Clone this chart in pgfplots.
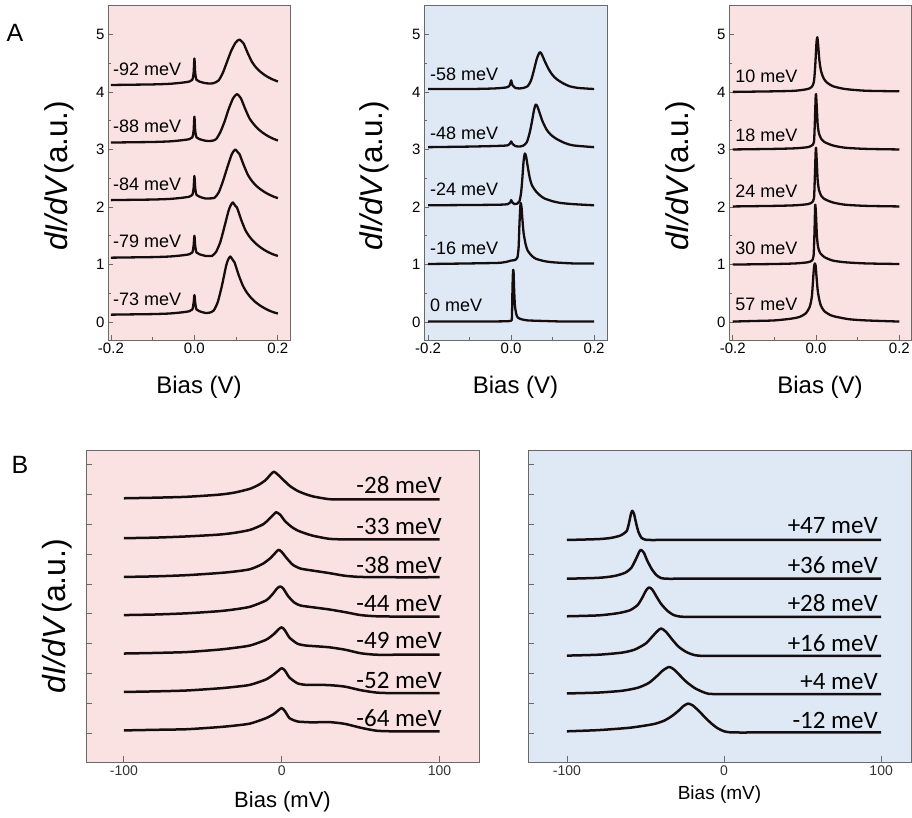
\documentclass[border=0pt]{standalone}
\usepackage{fontspec}
\setmainfont{Liberation Sans}
\newfontfamily\calib{Carlito}
\usepackage{pgfplots}
\pgfplotsset{compat=1.18}
\definecolor{pinkbg}{RGB}{251,226,226}
\definecolor{bluebg}{RGB}{222,233,245}
\definecolor{axgray}{RGB}{105,105,105}
\definecolor{crvc}{RGB}{22,14,14}
\tikzset{
  lbl/.style={anchor=west, font=\fontsize{18}{18}\selectfont, inner sep=0pt},
  blbl/.style={anchor=base east, font=\calib\fontsize{25}{25}\selectfont, inner sep=0pt},
}
\pgfplotsset{
  crv/.style={line width=2.3pt, color=crvc, line join=round, smooth, tension=0.4},
  bcrv/.style={line width=2.5pt, color=crvc, line join=round, smooth, tension=0.4},
  topax/.style={scale only axis, anchor=south west, width=182pt, height=335pt,
    xmin=-0.207, xmax=0.229, ymin=-0.31, ymax=5.51,
    tick align=inside, tick pos=left,
    xtick={-0.2,0,0.2}, xticklabels={-0.2,0.0,0.2}, minor xtick={-0.1,0.1},
    ytick={0,1,2,3,4,5}, minor ytick={0.5,1.5,2.5,3.5,4.5},
    major tick length=5pt, minor tick length=3pt,
    axis line style={axgray, line width=0.8pt},
    tick style={axgray, line width=0.8pt},
    tick label style={font=\fontsize{15}{15}\selectfont},
    /pgf/number format/assume math mode=true,
    xlabel={Bias (V)},
    xlabel style={at={(axis description cs:0.5,-0.14)}, anchor=center, font=\fontsize{24}{24}\selectfont},
    ylabel={{\itshape dI/dV}\hspace{3pt}(a.u.)},
    ylabel style={at={(axis description cs:-0.27,0.49)}, anchor=center, font=\fontsize{31.5}{31.5}\selectfont, inner sep=0pt},
  },
  botax/.style={scale only axis, anchor=south west, height=312pt,
    ymin=-0.97, ymax=9.5, ytick={0,1,2,3,4,5,6,7,8,9}, yticklabels={},
    xtick={-100,0,100},
    tick align=inside, tick pos=left,
    major tick length=6pt,
    axis line style={axgray, line width=0.9pt},
    tick style={axgray, line width=0.9pt},
    tick label style={font=\fontsize{14}{14}\selectfont, text=black!80},
    /pgf/number format/assume math mode=true,
    xlabel={Bias (mV)},
  },
}
\begin{document}
\begin{tikzpicture}
\useasboundingbox (0pt,0pt) rectangle (912pt,818pt);
\node[font=\fontsize{25}{25}\selectfont] at (15pt,785pt) {A};
\node[font=\fontsize{25}{25}\selectfont] at (20pt,353pt) {B};

% ---------------- A1 ----------------
\begin{axis}[topax, at={(108pt,478pt)}, axis background/.style={fill=pinkbg}]
\addplot[crv] coordinates {(-0.2,0.13) (-0.15,0.135) (-0.1,0.14) (-0.06,0.15) (-0.03,0.17) (-0.012,0.19) (-0.005,0.22) (-0.002,0.33) (0,0.47) (0.002,0.33) (0.005,0.22) (0.012,0.19) (0.026,0.16) (0.036,0.165) (0.046,0.20) (0.056,0.35) (0.066,0.635) (0.076,0.98) (0.081,1.09) (0.086,1.14) (0.091,1.09) (0.096,1.04) (0.106,0.82) (0.116,0.635) (0.126,0.51) (0.136,0.42) (0.146,0.35) (0.156,0.295) (0.166,0.25) (0.178,0.205) (0.19,0.17) (0.2,0.15)};
\addplot[crv] coordinates {(-0.2,1.12) (-0.15,1.125) (-0.1,1.13) (-0.06,1.14) (-0.03,1.16) (-0.012,1.18) (-0.005,1.21) (-0.002,1.32) (0,1.50) (0.002,1.32) (0.005,1.21) (0.012,1.18) (0.027,1.15) (0.042,1.15) (0.047,1.18) (0.052,1.22) (0.062,1.39) (0.072,1.66) (0.082,1.94) (0.087,2.03) (0.092,2.08) (0.097,2.03) (0.102,1.99) (0.112,1.78) (0.122,1.60) (0.132,1.485) (0.142,1.40) (0.152,1.335) (0.162,1.28) (0.172,1.235) (0.186,1.185) (0.2,1.15)};
\addplot[crv] coordinates {(-0.2,2.12) (-0.15,2.125) (-0.1,2.13) (-0.06,2.14) (-0.03,2.16) (-0.012,2.18) (-0.005,2.21) (-0.002,2.32) (0,2.54) (0.002,2.32) (0.005,2.21) (0.012,2.18) (0.025,2.15) (0.038,2.15) (0.048,2.16) (0.058,2.25) (0.068,2.44) (0.078,2.67) (0.088,2.89) (0.093,2.96) (0.098,3.00) (0.103,2.96) (0.108,2.92) (0.118,2.73) (0.128,2.56) (0.138,2.45) (0.148,2.37) (0.158,2.31) (0.168,2.26) (0.178,2.22) (0.19,2.18) (0.2,2.155)};
\addplot[crv] coordinates {(-0.2,3.12) (-0.15,3.125) (-0.1,3.13) (-0.06,3.14) (-0.03,3.16) (-0.012,3.18) (-0.005,3.21) (-0.002,3.32) (0,3.57) (0.002,3.32) (0.005,3.21) (0.012,3.18) (0.027,3.15) (0.042,3.15) (0.052,3.18) (0.062,3.30) (0.072,3.48) (0.082,3.70) (0.092,3.88) (0.097,3.93) (0.102,3.96) (0.107,3.93) (0.112,3.88) (0.122,3.70) (0.132,3.54) (0.142,3.44) (0.152,3.36) (0.162,3.30) (0.172,3.25) (0.182,3.21) (0.191,3.18) (0.2,3.155)};
\addplot[crv] coordinates {(-0.2,4.12) (-0.15,4.125) (-0.1,4.13) (-0.06,4.14) (-0.03,4.16) (-0.012,4.18) (-0.005,4.21) (-0.002,4.32) (0,4.58) (0.002,4.32) (0.005,4.21) (0.012,4.18) (0.028,4.15) (0.045,4.15) (0.058,4.20) (0.068,4.33) (0.078,4.52) (0.088,4.71) (0.098,4.85) (0.103,4.89) (0.108,4.91) (0.113,4.88) (0.118,4.84) (0.128,4.67) (0.138,4.52) (0.148,4.42) (0.158,4.35) (0.168,4.295) (0.178,4.25) (0.188,4.215) (0.2,4.18)};
\node[lbl] at (axis cs:-0.195,0.4) {-73 meV};
\node[lbl] at (axis cs:-0.195,1.4) {-79 meV};
\node[lbl] at (axis cs:-0.195,2.4) {-84 meV};
\node[lbl] at (axis cs:-0.195,3.4) {-88 meV};
\node[lbl] at (axis cs:-0.195,4.4) {-92 meV};
\end{axis}

% ---------------- A2 ----------------
\begin{axis}[topax, at={(424pt,478pt)}, width=183pt, xmin=-0.21, xmax=0.231, axis background/.style={fill=bluebg}]
\addplot[crv] coordinates {(-0.2,0.01) (-0.1,0.01) (-0.04,0.012) (-0.015,0.015) (-0.006,0.018) (-0.002,0.02) (0.001,0.03) (0.002,0.1) (0.003,0.5) (0.004,0.8) (0.005,0.91) (0.006,0.85) (0.007,0.6) (0.009,0.3) (0.012,0.15) (0.016,0.08) (0.025,0.05) (0.04,0.03) (0.08,0.02) (0.13,0.01) (0.2,0.01)};
\addplot[crv] coordinates {(-0.2,1.01) (-0.1,1.02) (-0.03,1.03) (-0.01,1.05) (0,1.07) (0.01,1.08) (0.015,1.12) (0.018,1.3) (0.02,1.7) (0.022,2.0) (0.023,2.07) (0.025,2.0) (0.027,1.8) (0.03,1.55) (0.035,1.35) (0.04,1.24) (0.05,1.15) (0.06,1.1) (0.08,1.06) (0.1,1.04) (0.15,1.02) (0.2,1.02)};
\addplot[crv] coordinates {(-0.2,2.03) (-0.1,2.035) (-0.03,2.04) (-0.008,2.05) (-0.002,2.08) (0,2.12) (0.003,2.08) (0.008,2.05) (0.015,2.06) (0.02,2.1) (0.024,2.25) (0.027,2.5) (0.03,2.8) (0.033,2.93) (0.036,2.88) (0.04,2.7) (0.045,2.5) (0.05,2.38) (0.06,2.27) (0.07,2.2) (0.08,2.15) (0.1,2.1) (0.12,2.07) (0.15,2.05) (0.2,2.03)};
\addplot[crv] coordinates {(-0.2,3.04) (-0.1,3.05) (-0.04,3.06) (-0.01,3.07) (-0.003,3.1) (0,3.14) (0.003,3.1) (0.01,3.06) (0.02,3.05) (0.03,3.07) (0.038,3.13) (0.045,3.3) (0.05,3.48) (0.055,3.68) (0.059,3.78) (0.063,3.75) (0.068,3.65) (0.075,3.5) (0.085,3.35) (0.095,3.26) (0.11,3.18) (0.13,3.11) (0.15,3.07) (0.2,3.04)};
\addplot[crv] coordinates {(-0.2,4.05) (-0.1,4.05) (-0.04,4.06) (-0.01,4.08) (-0.003,4.12) (0,4.2) (0.003,4.12) (0.01,4.07) (0.02,4.06) (0.03,4.07) (0.04,4.1) (0.048,4.2) (0.055,4.38) (0.062,4.58) (0.069,4.69) (0.074,4.65) (0.08,4.55) (0.09,4.4) (0.1,4.29) (0.11,4.22) (0.125,4.15) (0.14,4.1) (0.16,4.07) (0.2,4.05)};
\node[lbl] at (axis cs:-0.196,0.3) {0 meV};
\node[lbl] at (axis cs:-0.196,1.28) {-16 meV};
\node[lbl] at (axis cs:-0.196,2.3) {-24 meV};
\node[lbl] at (axis cs:-0.196,3.28) {-48 meV};
\node[lbl] at (axis cs:-0.196,4.31) {-58 meV};
\end{axis}

% ---------------- A3 ----------------
\begin{axis}[topax, at={(729pt,478pt)}, xmin=-0.209, xmax=0.228, axis background/.style={fill=pinkbg}]
\addplot[crv] coordinates {(-0.2,0.01) (-0.15,0.02) (-0.1,0.03) (-0.06,0.06) (-0.04,0.09) (-0.025,0.15) (-0.015,0.27) (-0.01,0.45) (-0.007,0.75) (-0.005,0.95) (-0.003,1.02) (-0.001,0.98) (0.001,0.8) (0.004,0.55) (0.008,0.38) (0.012,0.28) (0.02,0.19) (0.035,0.12) (0.05,0.09) (0.08,0.05) (0.12,0.03) (0.2,0.01)};
\addplot[crv] coordinates {(-0.2,1.0) (-0.1,1.01) (-0.05,1.02) (-0.02,1.04) (-0.01,1.07) (-0.006,1.15) (-0.004,1.5) (-0.002,2.04) (0,1.85) (0.002,1.5) (0.005,1.3) (0.01,1.2) (0.02,1.13) (0.04,1.07) (0.07,1.04) (0.12,1.02) (0.2,1.01)};
\addplot[crv] coordinates {(-0.2,2.01) (-0.1,2.02) (-0.05,2.03) (-0.02,2.05) (-0.01,2.08) (-0.005,2.15) (-0.003,2.5) (-0.001,2.95) (0,3.03) (0.002,2.75) (0.004,2.45) (0.007,2.3) (0.012,2.2) (0.02,2.14) (0.04,2.08) (0.07,2.04) (0.12,2.02) (0.2,2.01)};
\addplot[crv] coordinates {(-0.2,3.0) (-0.1,3.01) (-0.05,3.02) (-0.02,3.04) (-0.01,3.07) (-0.005,3.13) (-0.003,3.45) (-0.001,3.9) (0,3.96) (0.002,3.7) (0.004,3.42) (0.007,3.28) (0.012,3.19) (0.02,3.13) (0.04,3.07) (0.07,3.03) (0.12,3.01) (0.2,3.0)};
\addplot[crv] coordinates {(-0.2,4.0) (-0.1,4.01) (-0.05,4.02) (-0.02,4.05) (-0.01,4.09) (-0.005,4.18) (-0.002,4.45) (0.001,4.85) (0.003,4.95) (0.005,4.82) (0.008,4.55) (0.012,4.36) (0.018,4.24) (0.025,4.17) (0.04,4.1) (0.07,4.05) (0.12,4.02) (0.2,4.01)};
\node[lbl] at (axis cs:-0.194,0.3) {57 meV};
\node[lbl] at (axis cs:-0.194,1.28) {30 meV};
\node[lbl] at (axis cs:-0.194,2.27) {24 meV};
\node[lbl] at (axis cs:-0.194,3.25) {18 meV};
\node[lbl] at (axis cs:-0.194,4.27) {10 meV};
\end{axis}

% ---------------- B1 ----------------
\begin{axis}[botax, at={(86pt,56pt)}, width=393pt, xmin=-124, xmax=125,
  axis background/.style={fill=pinkbg},
  xlabel style={at={(axis description cs:0.5,-0.128)}, anchor=center, font=\fontsize{22}{22}\selectfont},
  ylabel={{\itshape dI/dV}\hspace{5pt}(a.u.)},
  ylabel style={at={(axis description cs:-0.0725,0.468)}, anchor=center, font=\fontsize{32}{32}\selectfont, inner sep=0pt}]
\addplot[bcrv] coordinates {(-100,0.09) (-80,0.11) (-60,0.13) (-40,0.2) (-30,0.25) (-20,0.32) (-10,0.5) (-5,0.64) (-2,0.77) (0,0.84) (2,0.74) (5,0.5) (10,0.39) (15,0.37) (20,0.36) (30,0.37) (40,0.31) (50,0.18) (60,0.08) (70,0.06) (85,0.06) (100,0.06)};
\addplot[bcrv] coordinates {(-100,1.38) (-80,1.40) (-60,1.43) (-40,1.5) (-30,1.55) (-20,1.62) (-10,1.8) (-5,1.97) (-2,2.1) (0,2.18) (2,2.1) (5,1.86) (10,1.67) (15,1.62) (20,1.62) (30,1.61) (40,1.56) (50,1.44) (60,1.36) (70,1.34) (85,1.34) (100,1.34)};
\addplot[bcrv] coordinates {(-100,2.67) (-80,2.69) (-60,2.72) (-40,2.8) (-30,2.86) (-20,2.94) (-10,3.13) (-5,3.32) (-2,3.48) (0,3.55) (2,3.45) (5,3.2) (10,3.0) (15,2.94) (20,2.92) (30,2.88) (40,2.8) (50,2.68) (60,2.63) (75,2.63) (100,2.63)};
\addplot[bcrv] coordinates {(-100,3.96) (-80,3.98) (-60,4.02) (-40,4.09) (-30,4.15) (-20,4.24) (-10,4.45) (-6,4.65) (-3,4.85) (-1,4.92) (1,4.85) (4,4.6) (8,4.38) (12,4.28) (20,4.22) (30,4.15) (40,4.06) (50,3.96) (60,3.92) (75,3.91) (100,3.91)};
\addplot[bcrv] coordinates {(-100,5.24) (-80,5.26) (-60,5.3) (-40,5.37) (-30,5.42) (-20,5.5) (-12,5.68) (-7,5.88) (-4,6.05) (-2,6.15) (0,6.08) (3,5.88) (7,5.65) (12,5.52) (20,5.45) (30,5.37) (40,5.28) (50,5.24) (70,5.23) (100,5.23)};
\addplot[bcrv] coordinates {(-100,6.54) (-80,6.56) (-60,6.6) (-40,6.66) (-30,6.72) (-20,6.82) (-12,7.0) (-8,7.18) (-5,7.34) (-3.5,7.41) (-1,7.33) (2,7.12) (6,6.93) (10,6.8) (15,6.7) (20,6.62) (30,6.52) (40,6.5) (55,6.5) (75,6.5) (100,6.5)};
\addplot[bcrv] coordinates {(-100,7.88) (-80,7.9) (-60,7.93) (-40,8.0) (-30,8.07) (-20,8.2) (-14,8.35) (-10,8.5) (-7,8.68) (-5,8.77) (-3,8.7) (0,8.55) (5,8.3) (10,8.13) (15,8.02) (20,7.94) (30,7.85) (40,7.84) (55,7.84) (75,7.84) (100,7.84)};
\node[blbl] at (axis cs:101.5,0.22) {-64 meV};
\node[blbl] at (axis cs:101.5,1.51) {-52 meV};
\node[blbl] at (axis cs:101.5,2.85) {-49 meV};
\node[blbl] at (axis cs:101.5,4.08) {-44 meV};
\node[blbl] at (axis cs:101.5,5.36) {-38 meV};
\node[blbl] at (axis cs:101.5,6.65) {-33 meV};
\node[blbl] at (axis cs:101.5,8.04) {-28 meV};
\end{axis}

% ---------------- B2 ----------------
\begin{axis}[botax, at={(528pt,56pt)}, width=383pt, xmin=-124.8, xmax=119,
  axis background/.style={fill=bluebg},
  xlabel style={at={(axis description cs:0.5,-0.105)}, anchor=center, font=\fontsize{19}{19}\selectfont}]
\addplot[bcrv] coordinates {(-100,0.06) (-80,0.1) (-60,0.18) (-45,0.3) (-38,0.42) (-33,0.58) (-29,0.75) (-26,0.9) (-23,0.99) (-20,0.93) (-16,0.74) (-12,0.52) (-8,0.32) (-4,0.16) (0,0.06) (4,0.025) (9,0.02) (17,0.02) (30,0.02) (50,0.02) (75,0.02) (100,0.02)};
\addplot[bcrv] coordinates {(-100,1.33) (-80,1.36) (-65,1.42) (-55,1.52) (-48,1.68) (-43,1.9) (-39,2.1) (-35,2.22) (-32,2.14) (-28,1.93) (-24,1.72) (-19,1.52) (-14,1.39) (-10,1.32) (-5,1.31) (3,1.31) (15,1.31) (35,1.31) (65,1.31) (100,1.31)};
\addplot[bcrv] coordinates {(-100,2.6) (-80,2.63) (-65,2.7) (-57,2.8) (-50,3.0) (-46,3.22) (-42.5,3.42) (-40,3.51) (-37,3.4) (-33,3.14) (-29,2.9) (-24,2.72) (-19,2.62) (-14,2.59) (-7,2.59) (5,2.59) (25,2.59) (55,2.59) (100,2.59)};
\addplot[bcrv] coordinates {(-100,3.92) (-80,3.95) (-68,4.02) (-60,4.12) (-55,4.3) (-52,4.55) (-49.5,4.8) (-47.6,4.89) (-45.5,4.8) (-43,4.58) (-40,4.33) (-36,4.1) (-32,3.96) (-28,3.91) (-23,3.9) (-15,3.9) (0,3.9) (25,3.9) (60,3.9) (100,3.9)};
\addplot[bcrv] coordinates {(-100,5.18) (-80,5.21) (-70,5.27) (-63,5.38) (-59,5.55) (-56,5.85) (-54,6.08) (-52.9,6.15) (-51,6.05) (-49,5.8) (-46,5.5) (-43,5.3) (-40,5.2) (-36,5.18) (-30,5.18) (-20,5.18) (0,5.18) (30,5.18) (65,5.18) (100,5.18)};
\addplot[bcrv] coordinates {(-100,6.48) (-80,6.51) (-72,6.55) (-66,6.63) (-62,6.78) (-60.5,7.05) (-59.3,7.35) (-58.4,7.46) (-57.3,7.35) (-56,7.05) (-54.5,6.75) (-52.5,6.55) (-50,6.49) (-47,6.48) (-42,6.48) (-34,6.48) (-22,6.48) (-5,6.48) (20,6.48) (55,6.48) (100,6.48)};
\node[blbl] at (axis cs:98,0.17) {-12 meV};
\node[blbl] at (axis cs:98,1.47) {+4 meV};
\node[blbl] at (axis cs:98,2.75) {+16 meV};
\node[blbl] at (axis cs:98,4.07) {+28 meV};
\node[blbl] at (axis cs:98,5.37) {+36 meV};
\node[blbl] at (axis cs:98,6.71) {+47 meV};
\end{axis}
\end{tikzpicture}
\end{document}
